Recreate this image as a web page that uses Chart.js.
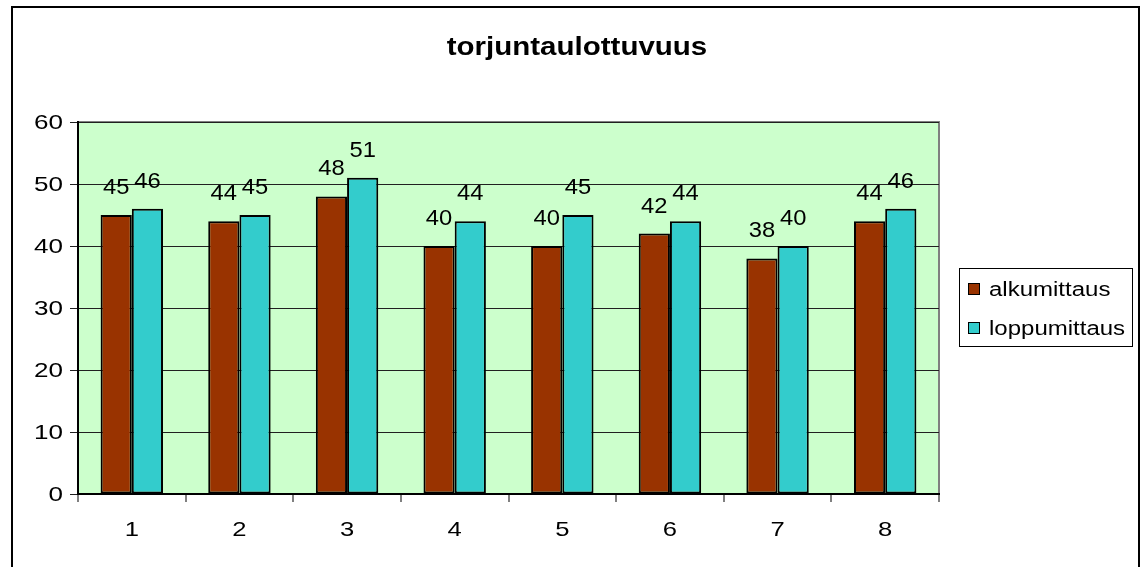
<!DOCTYPE html>
<html>
<head>
<meta charset="utf-8">
<script src="https://cdn.jsdelivr.net/npm/chart.js@4/dist/chart.umd.min.js"></script>
<style>
  html, body { margin: 0; padding: 0; background: #fff; }
  #wrap { width: 1143px; height: 567px; position: relative; }
</style>
</head>
<body>
<div id="wrap"><canvas id="chart" width="1143" height="567"></canvas></div>
<script>
// Chart data
const chartTitle = "torjuntaulottuvuus";
const categories = ["1", "2", "3", "4", "5", "6", "7", "8"];
const seriesNames = ["alkumittaus", "loppumittaus"];
const alkumittaus = [45, 44, 48, 40, 40, 42, 38, 44];
const loppumittaus = [46, 45, 51, 44, 45, 44, 40, 46];
const yTicks = [0, 10, 20, 30, 40, 50, 60];

const colors = ["#993300", "#33CCCC"];
const FONT = "'Liberation Sans', Arial, sans-serif";

// The original text is a wide Arial, so stretch it a bit sideways
function wideText(ctx, text, x, y, sx) {
    ctx.save();
    ctx.translate(x, y);
    ctx.scale(sx, 1);
    ctx.fillText(text, 0, 0);
    ctx.restore();
}

// Frame, title, plot background, axis labels, data labels and legend box
const decor = {
    id: "decor",
    beforeDraw(chart) {
        const ctx = chart.ctx;
        const a = chart.chartArea;
        ctx.save();
        ctx.fillStyle = "#fff";
        ctx.fillRect(0, 0, chart.width, chart.height);
        ctx.fillStyle = "#CCFFCC";
        ctx.fillRect(a.left, a.top, a.right - a.left, a.bottom - a.top);
        ctx.strokeStyle = "#808080";
        ctx.lineWidth = 2;
        ctx.strokeRect(a.left, a.top, a.right - a.left, a.bottom - a.top);
        ctx.restore();
    },
    afterDraw(chart) {
        const ctx = chart.ctx;
        ctx.save();
        // outer frame
        ctx.strokeStyle = "#000";
        ctx.lineWidth = 2;
        ctx.strokeRect(12, 7, 1127, 600);
        // title
        ctx.fillStyle = "#000";
        ctx.font = "bold 25px " + FONT;
        ctx.textAlign = "center";
        ctx.textBaseline = "alphabetic";
        wideText(ctx, chartTitle, 577, 55, 1.18);

        // axis labels
        ctx.font = "21px " + FONT;
        ctx.textAlign = "right";
        ctx.textBaseline = "middle";
        const ys = chart.scales.y;
        yTicks.forEach(v => wideText(ctx, String(v), 63, ys.getPixelForValue(v) + 1, 1.24));
        ctx.textAlign = "center";
        const xs = chart.scales.x;
        categories.forEach((c, i) => wideText(ctx, c, xs.getPixelForTick(i), 530, 1.22));

        // legend
        ctx.lineWidth = 1;
        ctx.strokeStyle = "#000";
        ctx.strokeRect(959.5, 268.5, 173, 78);
        ctx.font = "20px " + FONT;
        ctx.textAlign = "left";
        chart.data.datasets.forEach((ds, i) => {
            const y = 289 + i * 39;
            ctx.fillStyle = ds.backgroundColor;
            ctx.fillRect(968, y - 6, 12, 12);
            ctx.strokeRect(968.5, y - 5.5, 11, 11);
            ctx.fillStyle = "#000";
            wideText(ctx, ds.label, 989, y + 1, 1.2);
        });

        // data labels
        ctx.font = "22px " + FONT;
        ctx.textAlign = "center";
        ctx.textBaseline = "alphabetic";
        chart.data.datasets.forEach((ds, i) => {
            chart.getDatasetMeta(i).data.forEach((bar, j) => {
                wideText(ctx, String(ds.data[j]), bar.x, bar.y - 21, 1.08);
            });
        });
        ctx.restore();
    }
};

new Chart(document.getElementById("chart"), {
    type: "bar",
    data: {
        labels: categories,
        datasets: [
            { label: seriesNames[0], data: alkumittaus, backgroundColor: colors[0] },
            { label: seriesNames[1], data: loppumittaus, backgroundColor: colors[1] }
        ]
    },
    options: {
        responsive: false,
        animation: false,
        devicePixelRatio: 1,
        layout: { padding: { top: 122, right: 204, bottom: 0, left: 0 } },
        datasets: {
            bar: {
                borderColor: "#000",
                borderWidth: 2,
                borderSkipped: false,
                categoryPercentage: 0.58,
                barPercentage: 1
            }
        },
        plugins: {
            legend: { display: false },
            title: { display: false },
            tooltip: { enabled: false }
        },
        scales: {
            x: {
                afterFit(scale) { scale.height = 73; },
                grid: {
                    offset: true,
                    drawOnChartArea: false,
                    drawTicks: true,
                    tickLength: 8,
                    color: "#808080",
                    lineWidth: 2
                },
                border: { color: "#000", width: 2 },
                ticks: { color: "rgba(0,0,0,0)", font: { family: FONT, size: 20 }, padding: 16 }
            },
            y: {
                min: 0,
                max: 60,
                afterFit(scale) { scale.width = 78; },
                afterBuildTicks(scale) { scale.ticks = yTicks.map(v => ({ value: v })); },
                grid: {
                    color: "#202020",
                    lineWidth: 1,
                    tickLength: 8,
                    drawTicks: true
                },
                border: { color: "#000", width: 2 },
                ticks: { color: "rgba(0,0,0,0)", font: { family: FONT, size: 20 }, padding: 6 }
            }
        }
    },
    plugins: [decor]
});
</script>
</body>
</html>
